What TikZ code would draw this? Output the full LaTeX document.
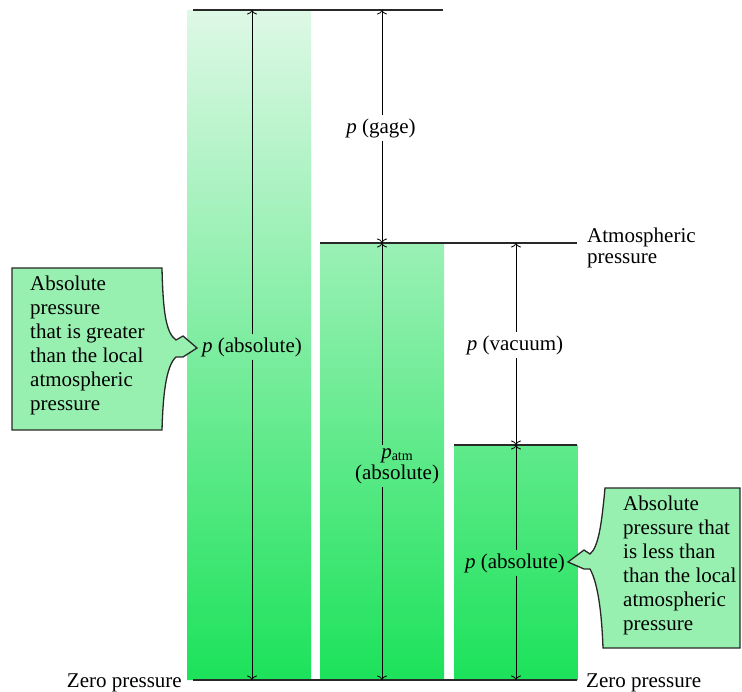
\documentclass[tikz,border=0pt]{standalone}
\usepackage{fontspec}
\setmainfont{Liberation Serif}
\usetikzlibrary{arrows.meta}
\definecolor{gtop}{RGB}{222,248,230}
\definecolor{gbot}{RGB}{28,226,90}
\definecolor{callfill}{RGB}{152,240,176}
\definecolor{lvlcol}{RGB}{40,40,40}
\begin{document}
\begin{tikzpicture}[x=1pt,y=-1pt,
  font=\fontsize{21}{24}\selectfont,
  dim/.style={line width=0.8pt, -{To[length=4.5pt,width=10pt]}},
  lvl/.style={line width=1.3pt, draw=lvlcol},
  lbl/.style={inner sep=3pt},
  txt/.style={inner sep=0pt, align=left},
  callout/.style={draw=lvlcol, line width=1.3pt, fill=callfill, line join=miter}]
\useasboundingbox (0,0) rectangle (742,692);
% bars with one vertical gradient
\begin{scope}
  \clip (187,10) rectangle (311,680) (320,243) rectangle (444,680) (454,445) rectangle (578,680);
  \shade[top color=gtop,bottom color=gbot] (187,10) rectangle (578,680);
\end{scope}
% level lines
\coordinate (top0) at (193,10);   \coordinate (top1) at (443,10);
\coordinate (atm0) at (320,243);  \coordinate (atm1) at (577,243);
\coordinate (vac0) at (454,445);  \coordinate (vac1) at (577,445);
\coordinate (zer0) at (193,680);  \coordinate (zer1) at (577,680);
\draw[lvl] (top0) -- (top1);
\draw[lvl] (atm0) -- (atm1);
\draw[lvl] (vac0) -- (vac1);
\draw[lvl] (zer0) -- (zer1);
% arrow end points
\coordinate (t1) at (252,10);  \coordinate (b1) at (252,680);
\coordinate (t2) at (382,10);  \coordinate (a2) at (382,243); \coordinate (b2) at (382,680);
\coordinate (a3) at (516,243); \coordinate (v3) at (516,445); \coordinate (b3) at (516,680);
% labels
\node[lbl] (pabsL) at (252,347) {\textit{p} (absolute)};
\node[lbl] (pgage) at (381,128) {\textit{p} (gage)};
\node[lbl, align=center, font=\fontsize{21}{21}\selectfont] (patm) at (397,466)
  {\textit{p}\raisebox{-0.25ex}{\fontsize{14}{14}\selectfont atm}\\(absolute)};
\node[lbl] (pvac) at (515,345) {\textit{p} (vacuum)};
\node[lbl] (pabsR) at (515,563) {\textit{p} (absolute)};
% dimension arrows
\draw[dim] (pabsL.north -| t1) -- (t1);
\draw[dim] (pabsL.south -| b1) -- (b1);
\draw[dim] (pgage.north -| t2) -- (t2);
\draw[dim] (pgage.south -| a2) -- (a2);
\draw[dim] (patm.north -| a2) -- (a2);
\draw[dim] (patm.south -| b2) -- (b2);
\draw[dim] (pvac.north -| a3) -- (a3);
\draw[dim] (pvac.south -| v3) -- (v3);
\draw[dim] (pabsR.north -| v3) -- (v3);
\draw[dim] (pabsR.south -| b3) -- (b3);
% side texts
\node[txt, anchor=west, font=\fontsize{21}{21}\selectfont] (atmtxt) at (587,248) {Atmospheric\\pressure};
\node[txt, anchor=east] (zeroL) at (182,683) {Zero pressure};
\node[txt, anchor=west] (zeroR) at (586,683) {Zero pressure};
% left callout
\draw[callout] (12,268) -- (162,268)
  .. controls (163,312) and (166,333) .. (176,340)
  -- (183,336) -- (197,348) -- (183,357) -- (176,357)
  .. controls (166,366) and (163,395) .. (162,430)
  -- (12,430) -- cycle;
\node[txt, anchor=north west] (calloutL) at (30,276)
  {Absolute\\pressure\\that is greater\\than the local\\atmospheric\\pressure};
% right callout
\draw[callout] (740,488) -- (605,488)
  .. controls (602,520) and (599,547) .. (590,554)
  -- (584,550) -- (568,562) -- (584,569) -- (590,569)
  .. controls (599,585) and (602,620) .. (603,648)
  -- (740,648) -- cycle;
\node[txt, anchor=north west] (calloutR) at (623,496)
  {Absolute\\pressure that\\is less than\\than the local\\atmospheric\\pressure};
\end{tikzpicture}
\end{document}
